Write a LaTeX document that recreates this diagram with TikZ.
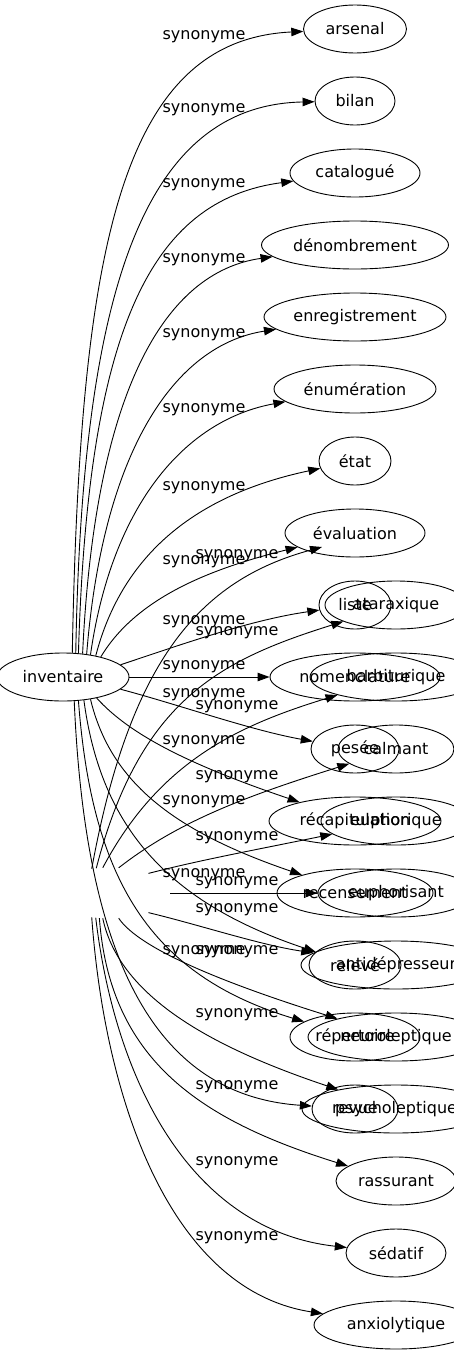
\documentclass[tikz,border=0pt]{standalone}
\usepackage{fontspec}
\setmainfont{DejaVu Sans}
\usepackage{tikz}
\usetikzlibrary{shapes,arrows,arrows.meta,positioning}
\tikzstyle{word}=[draw, ellipse, inner sep=0pt, minimum height=48pt]
\tikzstyle{synarrow}=[draw, -{Triangle[length=12pt,width=8.5pt]}]
\tikzstyle{synlabel}=[inner sep=0pt]

\begin{document}
\begin{tikzpicture}[x=1pt, y=-1pt, line width=0.9pt, font=\fontsize{16}{19}\selectfont]
\useasboundingbox (0,0) rectangle (453,1355);

            % centre words
            \node[word, minimum width=132pt] (inventaire) at (63,677) {inventaire};
            \node[ellipse, minimum width=120pt, minimum height=50pt] (hub) at (110,893) {};
            \coordinate (hubtop) at (322,547);

            % first column
            \foreach \name/\txt/\w [count=\i from 0] in {arsenal/arsenal/103, bilan/bilan/80,
                catalogue/catalogué/130, denombrement/dénombrement/187,
                enregistrement/enregistrement/182, enumeration/énumération/162,
                etat/état/72, evaluation/évaluation/140, liste/liste/72,
                nomenclature/nomenclature/170, pesee/pesée/88,
                recapitulation/récapitulation/172, recensement/recensement/156,
                releve/relevé/92, repertoire/répertoire/130, revue/revue/86} {
                \node[word, minimum width=\w pt] (\name) at (355,29+72*\i) {\txt};
            }

            % second column
            \foreach \name/\txt/\w [count=\i from 8] in {ataraxique/ataraxique/142,
                barbiturique/barbiturique/172, calmant/calmant/116,
                euphorique/euphorique/150, euphorisant/euphorisant/156,
                antidepresseur/antidépresseur/190, neuroleptique/neuroleptique/176,
                psycholeptique/psycholeptique/188, rassurant/rassurant/120,
                sedatif/sédatif/100, anxiolytique/anxiolytique/164} {
                \node[word, minimum width=\w pt] (\name) at (396,29+72*\i) {\txt};
            }

            % edges from inventaire
            \foreach \t/\a/\ax/\ay/\bx/\by in {arsenal/69/80/250/120/40,
                bilan/62/82/300/140/105, catalogue/57/88/330/150/200,
                denombrement/50/95/390/165/272, enregistrement/44/103/450/175/345,
                enumeration/39/112/505/185/420, etat/33/122/555/195/495,
                evaluation/28/135/600/205/570, liste/12/180/645/250/620,
                pesee/-12/180/705/250/730, recapitulation/-32/130/735/190/765,
                recensement/-39/110/780/170/830, releve/-48/100/820/160/900,
                repertoire/-57/92/880/150/975, revue/-65/85/950/150/1095} {
                \draw[synarrow] (inventaire.\a) .. controls (\ax,\ay) and (\bx,\by) .. (\t);
            }
            \draw[synarrow] (inventaire) -- (nomenclature);

            % edges from the hidden word
            \foreach \t/\a/\ax/\ay/\bx/\by in {hubtop/127/130/660/200/580,
                ataraxique/119/140/700/220/660, barbiturique/106/160/760/240/725,
                calmant/71/180/820/250/795, euphorique/27/200/860/255/850,
                antidepresseur/-27/200/925/260/945, neuroleptique/-71/140/950/230/985,
                psycholeptique/-106/120/1000/220/1050, rassurant/-113/110/1060/200/1120,
                sedatif/-120/115/1080/190/1230, anxiolytique/-127/105/1100/170/1290} {
                \draw[synarrow] (hub.\a) .. controls (\ax,\ay) and (\bx,\by) .. (\t);
            }
            \draw[synarrow] (hub) -- (euphorisant);

            % labels
            \foreach \y [count=\i] in {37,110,185,260,335,410,488,562,622,667,695,742,802,875,952} {
                \node[synlabel] (la\i) at (204,\y) {synonyme};
            }
            \foreach \y [count=\i] in {556,633,707,777,838,883,910,952,1015,1087,1163,1238} {
                \node[synlabel] (lb\i) at (237,\y) {synonyme};
            }

\end{tikzpicture}
\end{document}
